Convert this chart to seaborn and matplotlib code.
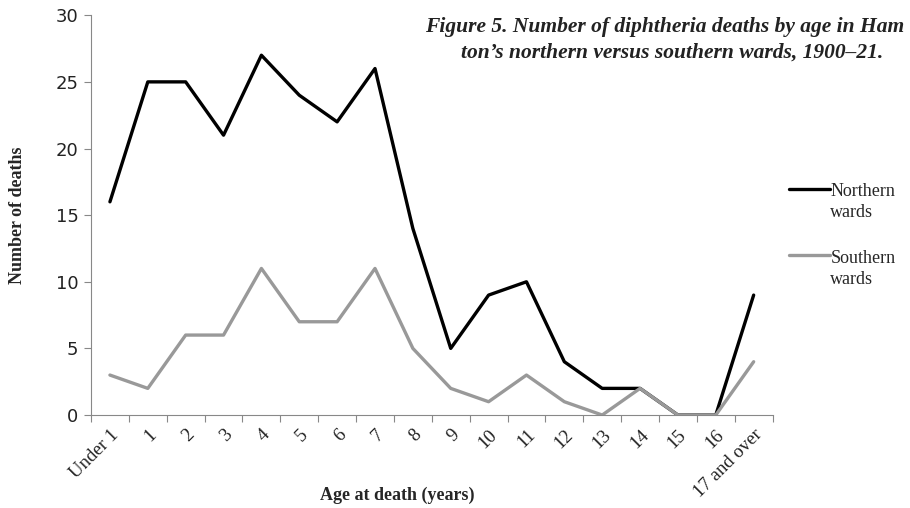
import matplotlib
matplotlib.use("Agg")
import matplotlib.pyplot as plt
import seaborn as sns
import pandas as pd
import numpy as np
from matplotlib.ticker import FixedLocator
from matplotlib.legend_handler import HandlerLine2D

categories = ["Under 1", "1", "2", "3", "4", "5", "6", "7", "8", "9", "10",
              "11", "12", "13", "14", "15", "16", "17 and over"]
northern = [16, 25, 25, 21, 27, 24, 22, 26, 14, 5, 9, 10, 4, 2, 2, 0, 0, 9]
southern = [3, 2, 6, 6, 11, 7, 7, 11, 5, 2, 1, 3, 1, 0, 2, 0, 0, 4]
series_names = ["Northern\nwards", "Southern\nwards"]

sns.set_theme(style="white")
plt.rcParams["font.family"] = ["DejaVu Sans"]

df = pd.DataFrame({
    "pos": list(range(len(categories))) * 2,
    "deaths": northern + southern,
    "series": [series_names[0]] * len(categories) + [series_names[1]] * len(categories),
})

fig = plt.figure(figsize=(9.1, 5.08), dpi=100)
ax = fig.add_axes([0.1, 0.183, 0.749, 0.787])

sns.lineplot(data=df, x="pos", y="deaths", hue="series",
             palette={series_names[0]: "#000000", series_names[1]: "#999999"},
             linewidth=2.4, ax=ax, legend=True)

ax.set_xlim(-0.5, len(categories) - 0.5)
ax.set_ylim(0, 30)
ax.set_yticks(range(0, 31, 5))
ax.set_yticklabels([str(v) for v in range(0, 31, 5)], fontsize=13, color="#222222")
ax.set_xticks(range(len(categories)))
ax.set_xticklabels(categories, rotation=45, ha="right", rotation_mode="anchor",
                   fontsize=13.5, family="Liberation Serif", color="#222222")
ax.xaxis.set_minor_locator(FixedLocator(np.arange(-0.5, len(categories), 1.0)))
ax.tick_params(axis="x", which="major", length=0, pad=8)
ax.tick_params(axis="x", which="minor", length=5, color="#888888", width=0.8, direction="out", bottom=True)
ax.tick_params(axis="y", which="major", length=5, color="#888888", width=0.8, direction="out", left=True, pad=4)

for s in ["top", "right"]:
    ax.spines[s].set_visible(False)
for s in ["left", "bottom"]:
    ax.spines[s].set_color("#888888")
    ax.spines[s].set_linewidth(0.8)

ax.set_xlabel("Age at death (years)", fontsize=13, family="Liberation Serif",
              fontweight="bold")
ax.set_ylabel("Number of deaths", fontsize=13, family="Liberation Serif",
              fontweight="bold")
ax.xaxis.set_label_coords(0.45, -0.178)
ax.yaxis.set_label_coords(-0.095, 0.5)


class HandlerTopLine(HandlerLine2D):
    def create_artists(self, legend, orig_handle, xdescent, ydescent,
                       width, height, fontsize, trans):
        artists = super().create_artists(legend, orig_handle, xdescent, ydescent,
                                         width, height, fontsize, trans)
        for a in artists:
            y = np.asarray(a.get_ydata(), dtype=float)
            a.set_ydata(y + 10)
        return artists


handles, labels = ax.get_legend_handles_labels()
ax.get_legend().remove()
leg = ax.legend(handles, labels, loc="upper left", bbox_to_anchor=(1.0, 0.62),
                frameon=False, handlelength=2.3, handletextpad=0.0, labelspacing=1.6,
                prop={"family": "Liberation Serif", "size": 13},
                handler_map={h: HandlerTopLine() for h in handles})
for line in leg.get_lines():
    line.set_linewidth(2.4)
for t in leg.get_texts():
    t.set_linespacing(1.3)

fig.text(425 / 910, 1 - 27 / 508, "Figure 5. Number of diphtheria deaths by age in Ham",
         fontsize=15.5, family="Liberation Serif", style="italic", fontweight="bold",
         ha="left", va="center", color="#222222")
fig.text(461 / 910, 1 - 53 / 508, "ton\u2019s northern versus southern wards, 1900\u201321.",
         fontsize=15.5, family="Liberation Serif", style="italic", fontweight="bold",
         ha="left", va="center", color="#222222")

fig.savefig("out.png", dpi=100)
